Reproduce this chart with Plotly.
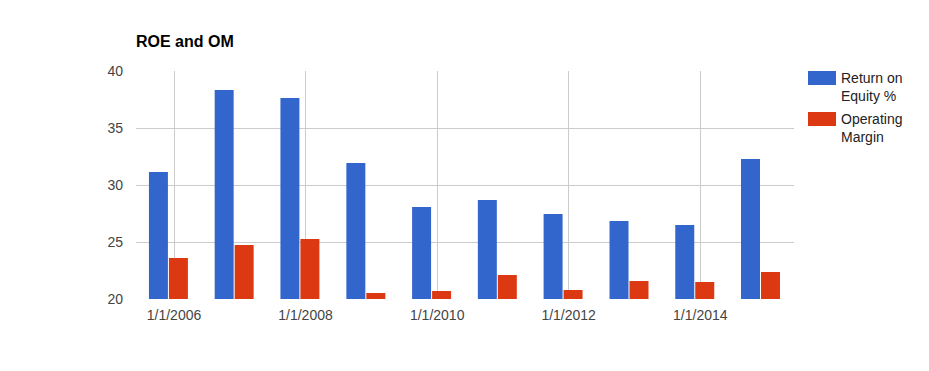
import plotly.graph_objects as go

# Data
dates = ["2005-12-01", "2006-12-01", "2007-12-01", "2008-12-01", "2009-12-01",
         "2010-12-01", "2011-12-01", "2012-12-01", "2013-12-01", "2014-12-01"]
roe = [31.14, 38.33, 37.63, 31.93, 28.07, 28.68, 27.46, 26.84, 26.5, 32.28]
om = [23.6, 24.74, 25.26, 20.53, 20.7, 22.1, 20.8, 21.58, 21.5, 22.37]
series_names = ["Return on<br>Equity %", "Operating<br>Margin"]
colors = ["#3366cc", "#dc3912"]
y_ticks = [20, 25, 30, 35, 40]

W, H = 929, 371
L, R, T, B = 136, 135, 71, 72
pw, ph = W - L - R, H - T - B

fig = go.Figure()
fig.add_trace(go.Bar(x=dates, y=roe, name="Return on Equity %", marker_color=colors[0],
                     marker_line_width=0, base=None))
fig.add_trace(go.Bar(x=dates, y=om, name="Operating Margin", marker_color=colors[1],
                     marker_line_width=0))

# custom legend
def px2x(p):
    return (p - L) / pw

def py2y(p):
    return (H - B - p) / ph

shapes = []
annotations = []
for i, (nm, c) in enumerate(zip(series_names, colors)):
    top = 71 + i * 41
    shapes.append(dict(type="rect", xref="paper", yref="paper",
                       x0=px2x(808), x1=px2x(836), y0=py2y(top + 14), y1=py2y(top),
                       fillcolor=c, line_width=0))
    annotations.append(dict(xref="paper", yref="paper", x=px2x(839), y=py2y(top - 3),
                            xanchor="left", yanchor="top", align="left", showarrow=False,
                            text=nm, font=dict(family="Arial", size=14, color="#222222")))

fig.update_layout(
    width=W, height=H,
    margin=dict(l=L, r=R, t=T, b=B),
    paper_bgcolor="white", plot_bgcolor="white",
    barmode="group", bargap=0.392, bargroupgap=0.05,
    showlegend=False,
    font=dict(family="Arial", size=14, color="#444444"),
    title=dict(text="<b>ROE and OM</b>", x=L / W, xanchor="left", y=1 - 41 / H, yanchor="middle",
               xref="container", yref="container",
               font=dict(family="Arial", size=16, color="#000000")),
    shapes=shapes,
    annotations=annotations,
)
fig.update_xaxes(type="date", range=["2005-06-04", "2015-06-05"],
                 tick0="2006-01-01", dtick="M24", tickformat="%-m/%-d/%Y",
                 showgrid=True, gridcolor="#cccccc", gridwidth=1,
                 showline=False, zeroline=False, ticks="", ticklabelstandoff=6,
                 tickfont=dict(family="Arial", size=14, color="#444444"))
fig.update_yaxes(range=[20, 40], tickvals=y_ticks, showgrid=True, gridcolor="#cccccc",
                 gridwidth=1, zeroline=False, showline=False, ticks="",
                 ticklabelstandoff=12,
                 tickfont=dict(family="Arial", size=14, color="#444444"))

fig.write_html("out.html")
